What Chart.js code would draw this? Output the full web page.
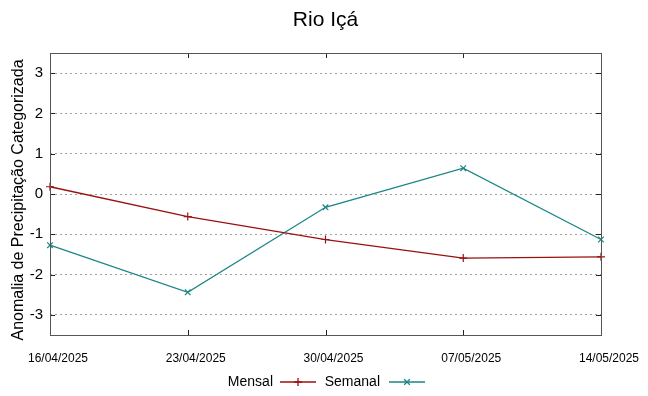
<!DOCTYPE html>
<html>
<head>
<meta charset="utf-8">
<script src="https://cdn.jsdelivr.net/npm/chart.js@4.4.1/dist/chart.umd.min.js"></script>
<style>
  body { margin: 0; background: #fff; }
  .chart-container { position: relative; width: 648px; height: 396px; }
</style>
</head>
<body>
<div class="chart-container"><canvas id="chart"></canvas></div>
<script>
const dates = ['16/04/2025', '23/04/2025', '30/04/2025', '07/05/2025', '14/05/2025'];
const mensal = [0.18, -0.56, -1.13, -1.59, -1.56];
const semanal = [-1.27, -2.44, -0.33, 0.64, -1.13];
const yTicks = [-3, -2, -1, 0, 1, 2, 3];

const chartTitle = 'Rio Içá';
const yTitle = 'Anomalia de Precipitação Categorizada';
const mainFont = "'Liberation Sans', Arimo, sans-serif";

// gnuplot-like frame, inner ticks, title and legend
const gnuplotLook = {
    id: 'gnuplotLook',
    afterDraw(chart) {
        const ctx = chart.ctx;
        const a = chart.chartArea;
        const x = chart.scales.x;
        const y = chart.scales.y;
        ctx.save();

        // ticks inside the box, on both sides
        ctx.strokeStyle = '#222';
        ctx.lineWidth = 1;
        ctx.beginPath();
        yTicks.forEach(v => {
            const py = Math.round(y.getPixelForValue(v)) + 0.5;
            ctx.moveTo(a.left, py); ctx.lineTo(a.left + 5, py);
            ctx.moveTo(a.right, py); ctx.lineTo(a.right - 5, py);
        });
        dates.forEach((d, i) => {
            const px = Math.round(x.getPixelForValue(i)) + 0.5;
            ctx.moveTo(px, a.bottom); ctx.lineTo(px, a.bottom - 5);
            ctx.moveTo(px, a.top); ctx.lineTo(px, a.top + 5);
        });
        ctx.stroke();

        // border box
        ctx.strokeStyle = '#555';
        ctx.lineWidth = 1;
        ctx.strokeRect(Math.round(a.left) + 0.5, Math.round(a.top) + 0.5,
            Math.round(a.right - a.left), Math.round(a.bottom - a.top));

        // title
        ctx.fillStyle = '#000';
        ctx.textAlign = 'center';
        ctx.textBaseline = 'middle';
        ctx.font = '21px ' + mainFont;
        ctx.fillText(chartTitle, (a.left + a.right) / 2, 20);

        // y axis title
        ctx.save();
        ctx.translate(19, 200);
        ctx.rotate(-Math.PI / 2);
        ctx.font = '16px ' + mainFont;
        ctx.fillText(yTitle, 0, 0);
        ctx.restore();

        // legend: text then line sample, like gnuplot
        const legendY = 382;
        const entries = [
            { ds: chart.data.datasets[0], textRight: 273, lineStart: 280 },
            { ds: chart.data.datasets[1], textRight: 380, lineStart: 389 }
        ];
        ctx.font = '14px ' + mainFont;
        entries.forEach(e => {
            ctx.fillStyle = '#000';
            ctx.textAlign = 'right';
            ctx.fillText(e.ds.label, e.textRight, legendY);
            ctx.strokeStyle = e.ds.borderColor;
            ctx.lineWidth = e.ds.borderWidth;
            ctx.beginPath();
            ctx.moveTo(e.lineStart, legendY);
            ctx.lineTo(e.lineStart + 36, legendY);
            ctx.stroke();
            Chart.helpers.drawPoint(ctx, {
                pointStyle: e.ds.pointStyle,
                radius: e.ds.pointRadius,
                borderWidth: e.ds.pointBorderWidth
            }, e.lineStart + 18, legendY);
        });
        ctx.restore();
    }
};

new Chart(document.getElementById('chart'), {
    type: 'line',
    data: {
        labels: dates,
        datasets: [
            {
                label: 'Mensal',
                data: mensal,
                borderColor: '#9b1010',
                backgroundColor: '#9b1010',
                borderWidth: 1.3,
                pointStyle: 'cross',
                pointRadius: 4,
                pointBorderWidth: 1.2,
                tension: 0,
                clip: false
            },
            {
                label: 'Semanal',
                data: semanal,
                borderColor: '#1a8585',
                backgroundColor: '#1a8585',
                borderWidth: 1.3,
                pointStyle: 'crossRot',
                pointRadius: 4,
                pointBorderWidth: 1.2,
                tension: 0,
                clip: false
            }
        ]
    },
    options: {
        responsive: true,
        maintainAspectRatio: false,
        animation: false,
        layout: { padding: { top: 53, right: 47, left: 0, bottom: 0 } },
        plugins: {
            legend: { display: false },
            title: { display: false },
            tooltip: { enabled: false }
        },
        scales: {
            x: {
                type: 'category',
                offset: false,
                grid: { display: false, drawTicks: false },
                border: { display: false },
                ticks: {
                    autoSkip: false,
                    maxRotation: 0,
                    padding: 16,
                    labelOffset: 8,
                    color: '#000',
                    font: { family: mainFont, size: 12 }
                },
                afterFit: scale => { scale.height = 61; }
            },
            y: {
                min: -3.5,
                max: 3.5,
                grid: {
                    color: '#a0a0a0',
                    lineWidth: 1,
                    drawTicks: false
                },
                border: { display: false, dash: [2, 3] },
                ticks: {
                    stepSize: 1,
                    padding: 7,
                    color: '#000',
                    font: { family: mainFont, size: 15 }
                },
                afterBuildTicks: scale => {
                    scale.ticks = yTicks.map(v => ({ value: v }));
                },
                afterFit: scale => { scale.width = 50; }
            }
        }
    },
    plugins: [gnuplotLook]
});
</script>
</body>
</html>
